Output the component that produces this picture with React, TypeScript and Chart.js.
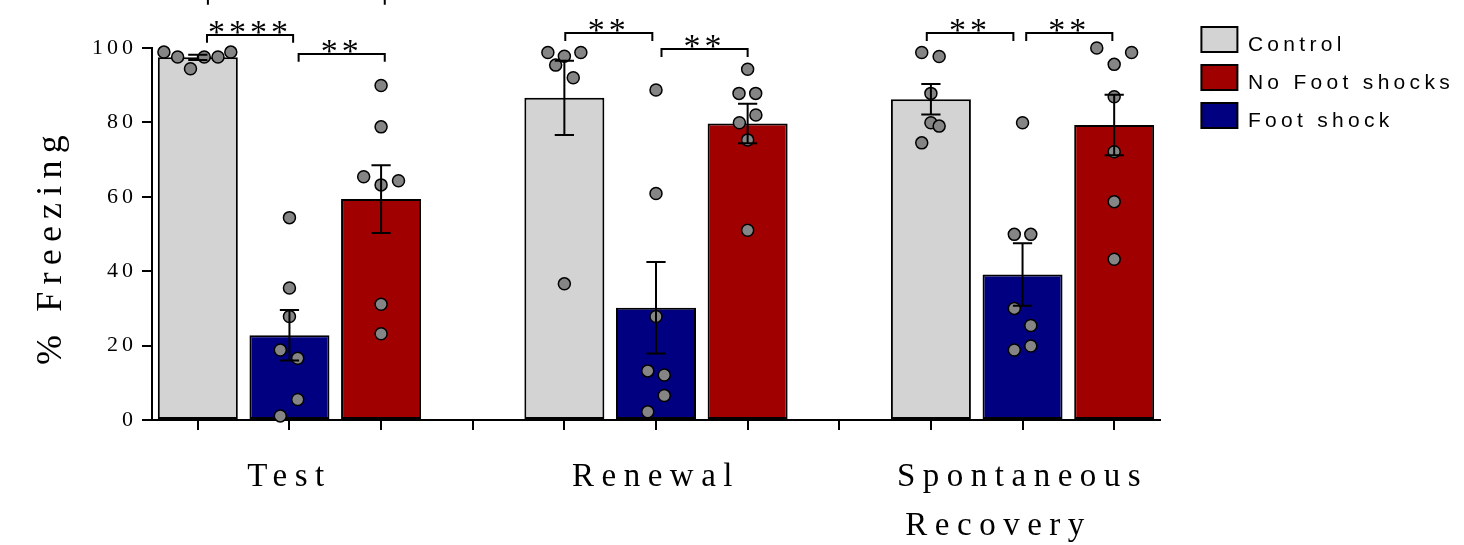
import React, { useEffect, useRef } from 'react';
import { Chart, registerables } from 'chart.js';

Chart.register(...registerables);

// ---------- data ----------
const sessions: (string | string[])[] = ['Test', 'Renewal', ['Spontaneous', 'Recovery\u2002\u2002']];
const conditionNames = ['Control', 'Foot shock', 'No Foot shocks'];

// group means (% freezing) per session: Test, Renewal, Spontaneous Recovery
const controlMeans = [97.5, 86.6, 86.2];
const footShockMeans = [22.8, 30.2, 39.1];
const noFootShockMeans = [59.4, 79.7, 79.3];

// SEM per session
const controlSem = [0.7, 10.0, 4.1];
const footShockSem = [6.8, 12.3, 8.4];
const noFootShockSem = [9.1, 5.3, 8.1];

// individual animals (value) and their horizontal scatter (fraction of a slot)
const testControlDots = [98.9, 97.6, 94.4, 97.6, 97.6, 98.9];
const testControlJitter = [-0.37, -0.22, -0.08, 0.07, 0.22, 0.36];
const testFootShockDots = [54.4, 35.5, 27.8, 18.8, 16.6, 5.5, 1.1];
const testFootShockJitter = [0, 0, 0, -0.1, 0.09, 0.09, -0.1];
const testNoFootShockDots = [89.9, 78.8, 65.4, 63.2, 64.3, 31.1, 23.2];
const testNoFootShockJitter = [0, 0, -0.19, 0, 0.19, 0, 0];

const renewalControlDots = [98.8, 97.8, 98.8, 95.4, 92.0, 36.6];
const renewalControlJitter = [-0.18, 0, 0.18, -0.095, 0.097, 0];
const renewalFootShockDots = [88.7, 60.9, 27.8, 13.2, 12.1, 6.6, 2.2];
const renewalFootShockJitter = [0, 0, 0, -0.09, 0.09, 0.09, -0.09];
const renewalNoFootShockDots = [94.3, 87.8, 87.8, 82.0, 79.9, 75.3, 51.0];
const renewalNoFootShockJitter = [0, -0.094, 0.088, 0.09, -0.09, 0, 0];

const spontControlDots = [98.8, 97.7, 87.8, 79.9, 79.0, 74.5];
const spontControlJitter = [-0.1, 0.09, 0, 0, 0.09, -0.1];
const spontFootShockDots = [79.9, 49.9, 49.9, 30.0, 25.4, 19.9, 18.8];
const spontFootShockJitter = [0, -0.09, 0.09, -0.09, 0.09, 0.09, -0.09];
const spontNoFootShockDots = [100.0, 98.8, 95.6, 86.9, 72.1, 58.7, 43.2];
const spontNoFootShockJitter = [-0.19, 0.19, 0, 0, 0, 0, 0];

// significance brackets (x in slot units, level in % freezing)
const bracketFrom = [0.1, 1.1, 0.11, 4.01, 5.06, 7.955, 9.04];
const bracketTo = [1.04, 2.04, 2.04, 4.96, 6.0, 8.9, 9.98];
const bracketLevel = [103.5, 98.4, 113.7, 104.0, 99.7, 104.0, 104.0];
const bracketStars = ['****', '**', '', '**', '**', '**', '**'];
const BRACKET_DROP = 2.1;
const CAP_HALF = 0.105;

// ---------- layout helpers ----------
const SLOT_COUNT = 11; // 3 sessions x 3 bars + 2 gaps
const slotOf = (session: number, cond: number) => session * 4 + cond;

const xLabels = Array.from({ length: SLOT_COUNT }, (_, i) =>
  i % 4 === 1 ? sessions[(i - 1) / 4] : ''
);

const toSlots = (vals: number[], cond: number) => {
  const arr: (number | null)[] = new Array(SLOT_COUNT).fill(null);
  vals.forEach((v, s) => {
    arr[slotOf(s, cond)] = v;
  });
  return arr;
};

const dotGroups = [
  { session: 0, cond: 0, values: testControlDots, jitter: testControlJitter },
  { session: 0, cond: 1, values: testFootShockDots, jitter: testFootShockJitter },
  { session: 0, cond: 2, values: testNoFootShockDots, jitter: testNoFootShockJitter },
  { session: 1, cond: 0, values: renewalControlDots, jitter: renewalControlJitter },
  { session: 1, cond: 1, values: renewalFootShockDots, jitter: renewalFootShockJitter },
  { session: 1, cond: 2, values: renewalNoFootShockDots, jitter: renewalNoFootShockJitter },
  { session: 2, cond: 0, values: spontControlDots, jitter: spontControlJitter },
  { session: 2, cond: 1, values: spontFootShockDots, jitter: spontFootShockJitter },
  { session: 2, cond: 2, values: spontNoFootShockDots, jitter: spontNoFootShockJitter },
];

const dotPoints = dotGroups.flatMap((g) =>
  g.values.map((v, i) => ({ x: slotOf(g.session, g.cond) + g.jitter[i], y: v }))
);

const errorSets = [
  { cond: 0, means: controlMeans, sems: controlSem },
  { cond: 1, means: footShockMeans, sems: footShockSem },
  { cond: 2, means: noFootShockMeans, sems: noFootShockSem },
];

// letter spacing (px) and baseline nudge (px) by font size
const SPACING_BY_SIZE: Record<number, number> = { 21: 4.3, 22: 4, 34: 4, 33: 7.5, 36: 7.2 };
const BASELINE_SHIFT_BY_SIZE: Record<number, number> = { 21: 6 };

function addLetterSpacing(ctx: any) {
  if (ctx.__spaced) return;
  ctx.__spaced = true;
  const fill = ctx.fillText.bind(ctx);
  const measure = ctx.measureText.bind(ctx);
  const fontSize = () => {
    const m = /([\d.]+)px/.exec(ctx.font);
    return m ? Math.round(parseFloat(m[1])) : 0;
  };
  ctx.fillText = (t: string, x: number, y: number, w?: number) => {
    const size = fontSize();
    ctx.letterSpacing = (SPACING_BY_SIZE[size] || 0) + 'px';
    const yy = y + (BASELINE_SHIFT_BY_SIZE[size] || 0);
    if (w === undefined || w === null) fill(t, x, yy);
    else fill(t, x, yy, w);
  };
  ctx.measureText = (t: string) => {
    ctx.letterSpacing = (SPACING_BY_SIZE[fontSize()] || 0) + 'px';
    return measure(t);
  };
}

const errorBarPlugin = {
  id: 'errorBars',
  afterDatasetsDraw(chart: any) {
    const xs = chart.scales.xl;
    const ys = chart.scales.y;
    const ctx = chart.ctx;
    ctx.save();
    ctx.strokeStyle = '#000';
    ctx.lineWidth = 2;
    errorSets.forEach((set) => {
      set.means.forEach((m, s) => {
        const slot = slotOf(s, set.cond);
        const x = xs.getPixelForValue(slot);
        const half = xs.getPixelForValue(slot + CAP_HALF) - x;
        const yTop = ys.getPixelForValue(m + set.sems[s]);
        const yBot = ys.getPixelForValue(m - set.sems[s]);
        ctx.beginPath();
        ctx.moveTo(x, yTop);
        ctx.lineTo(x, yBot);
        ctx.moveTo(x - half, yTop);
        ctx.lineTo(x + half, yTop);
        ctx.moveTo(x - half, yBot);
        ctx.lineTo(x + half, yBot);
        ctx.stroke();
      });
    });
    ctx.restore();
  },
};

const bracketPlugin = {
  id: 'brackets',
  afterDraw(chart: any) {
    const xs = chart.scales.xl;
    const ys = chart.scales.y;
    const ctx = chart.ctx;
    ctx.save();
    ctx.strokeStyle = '#000';
    ctx.fillStyle = '#000';
    ctx.lineWidth = 2;
    ctx.lineJoin = 'miter';
    bracketFrom.forEach((from, i) => {
      const x1 = xs.getPixelForValue(from);
      const x2 = xs.getPixelForValue(bracketTo[i]);
      const y = ys.getPixelForValue(bracketLevel[i]);
      const yLeg = ys.getPixelForValue(bracketLevel[i] - BRACKET_DROP);
      ctx.beginPath();
      ctx.moveTo(x1, yLeg);
      ctx.lineTo(x1, y);
      ctx.lineTo(x2, y);
      ctx.lineTo(x2, yLeg);
      ctx.stroke();
      if (bracketStars[i]) {
        ctx.font = '34px "Liberation Serif", serif';
        ctx.textAlign = 'center';
        ctx.textBaseline = 'alphabetic';
        ctx.fillText(bracketStars[i], (x1 + x2) / 2, y + 8);
      }
    });
    ctx.restore();
  },
};

export default function App() {
  const canvasRef = useRef<HTMLCanvasElement | null>(null);

  useEffect(() => {
    const canvas = canvasRef.current;
    if (!canvas) return;
    const ctx = canvas.getContext('2d');
    addLetterSpacing(ctx);

    const serif = '"Liberation Serif", "Times New Roman", serif';
    const sans = '"Liberation Sans", Arial, sans-serif';

    const barCommon = {
      type: 'bar' as const,
      xAxisID: 'x',
      yAxisID: 'y',
      grouped: false,
      barPercentage: 0.873,
      categoryPercentage: 1,
      borderColor: '#000',
      borderWidth: 2,
      borderSkipped: false,
      order: 2,
    };

    const hiddenAxis = {
      display: true,
      offset: false,
      grid: { display: false, offset: false },
      border: { display: false },
      ticks: { display: false },
    };

    const chart = new Chart(canvas, {
      type: 'bar',
      data: {
        labels: xLabels as any,
        datasets: [
          { ...barCommon, label: conditionNames[0], data: toSlots(controlMeans, 0), backgroundColor: '#d3d3d3' },
          { ...barCommon, label: conditionNames[2], data: toSlots(noFootShockMeans, 2), backgroundColor: '#a00000' },
          { ...barCommon, label: conditionNames[1], data: toSlots(footShockMeans, 1), backgroundColor: '#000080' },
          {
            type: 'scatter' as const,
            label: 'animals',
            xAxisID: 'xl',
            yAxisID: 'y',
            data: dotPoints,
            pointRadius: 6,
            pointBorderWidth: 1.5,
            pointBackgroundColor: '#858585',
            pointBorderColor: '#000',
            clip: false as any,
            order: 1,
          } as any,
        ],
      },
      options: {
        responsive: false,
        animation: false,
        devicePixelRatio: 1,
        layout: { padding: { top: 14, left: 0, right: 0, bottom: 0 } },
        plugins: {
          tooltip: { enabled: false },
          legend: {
            position: 'right',
            align: 'start',
            maxWidth: 400,
            labels: {
              boxWidth: 36,
              boxHeight: 25,
              padding: 13,
              color: '#000',
              font: { family: sans, size: 21 },
              filter: (item: any) => item.datasetIndex < 3,
            },
          },
        },
        scales: {
          x: {
            type: 'category',
            offset: true,
            weight: 1,
            grid: {
              display: true,
              drawOnChartArea: false,
              drawTicks: true,
              tickLength: 10,
              color: '#000',
              lineWidth: 2,
              offset: false,
            },
            border: { display: true, color: '#000', width: 2 },
            ticks: {
              autoSkip: false,
              maxRotation: 0,
              minRotation: 0,
              color: '#000',
              padding: 23,
              font: { family: serif, size: 33, lineHeight: 1.48 },
            },
            afterFit: (s: any) => {
              s.height = 125;
            },
          },
          xl: {
            type: 'linear',
            position: 'bottom',
            min: -0.5,
            max: 10.5,
            bounds: 'data',
            weight: 0,
            ...hiddenAxis,
            afterFit: (s: any) => {
              s.height = 0;
            },
          },
          xt: {
            type: 'linear',
            position: 'top',
            ...hiddenAxis,
            afterFit: (s: any) => {
              s.height = 34;
            },
          },
          y: {
            type: 'linear',
            min: 0,
            max: 100,
            grid: {
              display: true,
              drawOnChartArea: false,
              drawTicks: true,
              tickLength: 10,
              color: '#000',
              lineWidth: 2,
            },
            border: { display: true, color: '#000', width: 2 },
            ticks: {
              stepSize: 20,
              color: '#000',
              padding: 5,
              font: { family: serif, size: 22 },
            },
            title: {
              display: true,
              text: '% Freezing\u2002',
              color: '#000',
              font: { family: serif, size: 36, lineHeight: 1.2 },
              padding: { top: 30, bottom: 0 },
            },
            afterFit: (s: any) => {
              s.width = 152;
            },
          },
          yr: {
            type: 'linear',
            position: 'right',
            ...hiddenAxis,
            afterFit: (s: any) => {
              const lw = s.chart.legend ? s.chart.legend.width : 0;
              s.width = Math.max(0, s.chart.width - lw - 1160);
            },
          },
        },
      } as any,
      plugins: [errorBarPlugin, bracketPlugin],
    });

    return () => {
      chart.destroy();
    };
  }, []);

  return (
    <div style={{ position: 'fixed', left: 0, top: 0, width: 1464, height: 545, background: '#fff' }}>
      <canvas ref={canvasRef} width={1464} height={545} style={{ display: 'block' }} />
    </div>
  );
}
